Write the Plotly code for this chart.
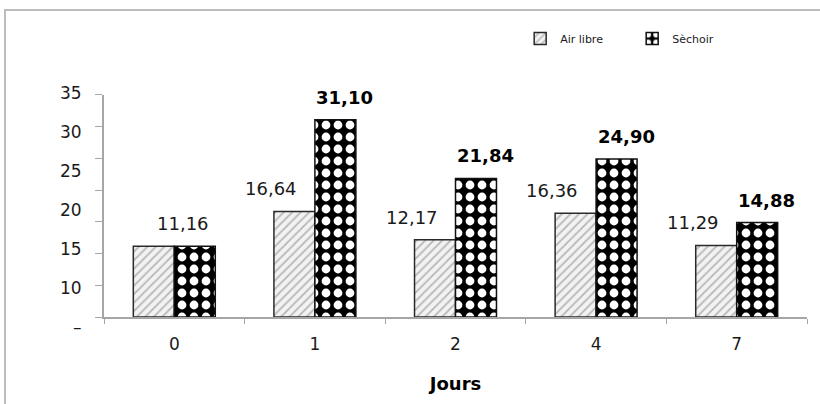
import plotly.graph_objects as go

# Drying trial: value per day for open-air vs. dryer samples
jours = ["0", "1", "2", "4", "7"]
air_libre = [11.16, 16.64, 12.17, 16.36, 11.29]
sechoir = [11.16, 31.10, 21.84, 24.90, 14.88]

# Left-hand scale labels
scale_vals = [35, 30, 25, 20, 15, 10, 5]
scale_text = ["35", "30", "25", "20", "15", "10", "–"]


def fr(v):
    return f"{v:.2f}".replace(".", ",")


AXIS_GREY = "#a6a6a6"
TXT = "#1a1a1a"

fig = go.Figure()
fig.add_trace(go.Bar(
    name="Air libre", x=jours, y=air_libre,
    marker=dict(
        color="#f2f2f2",
        line=dict(color="#2a2a2a", width=1.5),
        pattern=dict(shape="/", fgcolor="#7a7a7a", bgcolor="#f2f2f2",
                     size=6, solidity=0.3),
    ),
))
fig.add_trace(go.Bar(
    name="Sèchoir", x=jours, y=sechoir,
    marker=dict(
        color="#000000",
        line=dict(color="#111111", width=1.5),
        pattern=dict(shape=".", fgcolor="#ffffff", bgcolor="#000000",
                     fgopacity=1, size=12, solidity=0.42),
    ),
))
# carrier for the label scale on the left
fig.add_trace(go.Scatter(x=[], y=[], yaxis="y2", showlegend=False,
                         hoverinfo="skip"))

# value labels: open-air labels sit up-left of their bar, dryer labels
# (bold) up-right; when both values coincide a single label covers the pair.
# On the category axis, annotation x is the category position.
annotations = []
for pos, (a, s) in enumerate(zip(air_libre, sechoir)):
    if a == s:
        annotations.append(dict(x=pos, y=a, text=fr(a), xshift=9, yshift=10))
        continue
    annotations.append(dict(x=pos, y=a, text=fr(a), xshift=-44, yshift=10))
    annotations.append(dict(x=pos, y=s, text="<b>" + fr(s) + "</b>",
                            xshift=30, yshift=10,
                            font=dict(family="DejaVu Sans", size=18,
                                      color="#000000")))
for ann in annotations:
    ann.update(xref="x", yref="y", showarrow=False, yanchor="bottom")
    ann.setdefault("font", dict(family="DejaVu Sans", size=18, color=TXT))

fig.update_layout(
    width=820, height=404,
    margin=dict(l=104, r=13, t=80, b=60),
    paper_bgcolor="white", plot_bgcolor="rgba(0,0,0,0)",
    barmode="group", bargap=0.417, bargroupgap=0,
    font=dict(family="DejaVu Sans", color=TXT),
    showlegend=True,
    legend=dict(
        orientation="h", x=0.592, y=1.212, xanchor="left", yanchor="top",
        font=dict(family="DejaVu Sans", size=11, color=TXT),
        entrywidth=67, entrywidthmode="pixels",
        bgcolor="rgba(0,0,0,0)", traceorder="normal",
    ),
    annotations=annotations,
    xaxis=dict(
        type="category", anchor="y",
        categoryorder="array", categoryarray=jours,
        range=[-0.5, len(jours) - 0.5],
        showline=True, linecolor=AXIS_GREY, linewidth=1.5,
        ticks="outside", tickson="boundaries", ticklen=5,
        tickcolor=AXIS_GREY, tickwidth=1,
        tickfont=dict(family="DejaVu Sans", size=17, color=TXT),
        ticklabelstandoff=11,
        showgrid=False, zeroline=False,
        title=dict(text="<b>Jours</b>", standoff=24,
                   font=dict(family="DejaVu Sans", size=18, color="#000000")),
    ),
    yaxis=dict(
        domain=[0.10227, 0.9432], range=[0, 35],
        showline=True, linecolor=AXIS_GREY, linewidth=1.5,
        ticks="outside", ticklen=7, tickcolor=AXIS_GREY, tickwidth=1,
        dtick=5, tick0=0, showticklabels=False,
        showgrid=False, zeroline=False,
    ),
    yaxis2=dict(
        domain=[0, 1], anchor="x", side="left",
        range=[2.82, 36.67],
        tickmode="array", tickvals=scale_vals, ticktext=scale_text,
        ticks="outside", ticklen=18, tickcolor="rgba(0,0,0,0)",
        tickfont=dict(family="DejaVu Sans", size=17, color=TXT),
        showline=False, showgrid=False, zeroline=False,
    ),
    shapes=[dict(
        type="rect", xref="paper", yref="paper",
        x0=-0.1408, x1=1.2, y0=-0.6, y1=1.265,
        line=dict(color="#bdbdbd", width=2), fillcolor="rgba(0,0,0,0)",
        layer="below",
    )],
)

fig.write_html("out.html")
